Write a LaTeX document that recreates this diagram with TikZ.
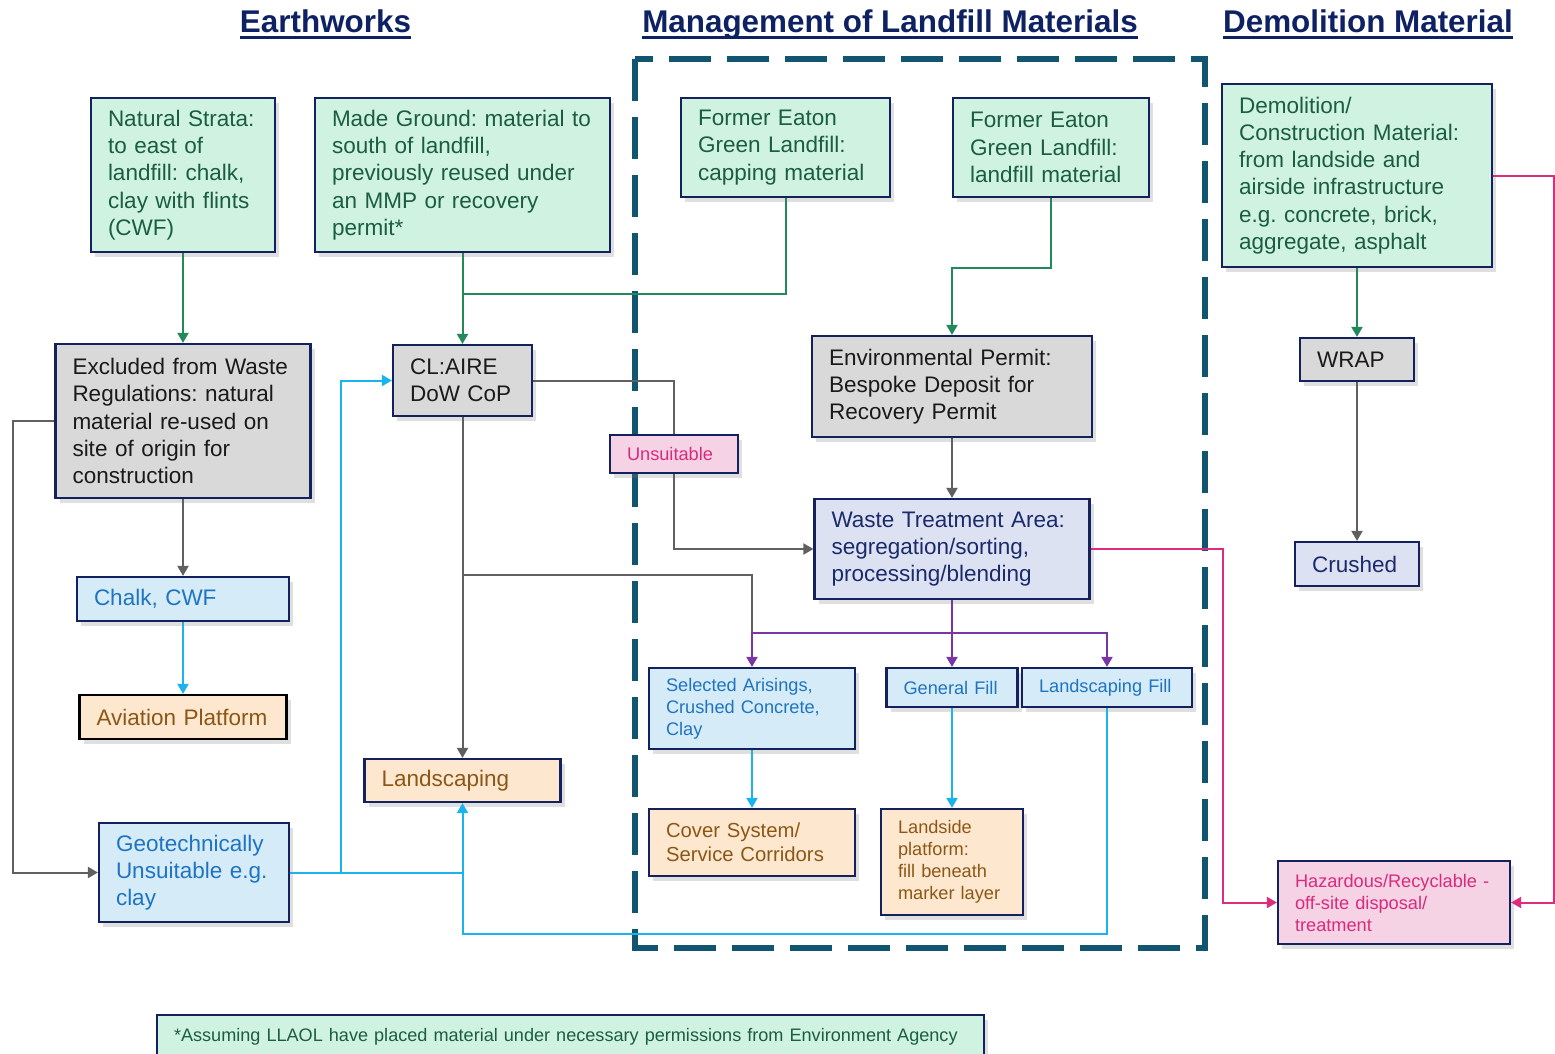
\documentclass[tikz,border=0pt]{standalone}
\usepackage{fontspec}
\setmainfont{Liberation Sans}
\frenchspacing
\usetikzlibrary{arrows.meta,shadows}
\definecolor{navyB}{HTML}{13225F}
\definecolor{titleC}{HTML}{0E2263}
\definecolor{dashC}{HTML}{115570}
\definecolor{mintF}{HTML}{CFF2E1}
\definecolor{mintT}{HTML}{1B5E3F}
\definecolor{grayF}{HTML}{D9D9D9}
\definecolor{grayT}{HTML}{1A1A1A}
\definecolor{lavF}{HTML}{DDE2F2}
\definecolor{lavT}{HTML}{1B2A6B}
\definecolor{blueF}{HTML}{D5EBF7}
\definecolor{blueT}{HTML}{1F74C2}
\definecolor{peachF}{HTML}{FDE8CF}
\definecolor{peachT}{HTML}{8C5716}
\definecolor{pinkF}{HTML}{F6D3E4}
\definecolor{pinkT}{HTML}{D92A7F}
\definecolor{greenL}{HTML}{23895A}
\definecolor{grayL}{HTML}{606060}
\definecolor{blueL}{HTML}{19B4EE}
\definecolor{purpleL}{HTML}{7A35A6}
\definecolor{magL}{HTML}{DD2C7E}
\begin{document}
\begin{tikzpicture}[x=1pt,y=1pt]
    \tikzstyle{every node}+=[inner sep=0pt]
    \tikzstyle{box}=[draw=navyB, line width=2.2pt, inner xsep=17pt, inner ysep=3pt, align=left,
        drop shadow={opacity=0.25, shadow xshift=4pt, shadow yshift=-5pt}]
    \tikzstyle{mint}=[box, fill=mintF, text=mintT]
    \tikzstyle{grey}=[box, fill=grayF, text=grayT]
    \tikzstyle{lav}=[box, fill=lavF, text=lavT]
    \tikzstyle{sky}=[box, fill=blueF, text=blueT]
    \tikzstyle{peach}=[box, fill=peachF, text=peachT]
    \tikzstyle{pink}=[box, fill=pinkF, text=pinkT]
    \tikzstyle{fbig}=[font=\fontsize{22.5}{27.3}\selectfont]
    \tikzstyle{fmid}=[font=\fontsize{20.3}{24}\selectfont]
    \tikzstyle{fsmall}=[font=\fontsize{18.2}{22}\selectfont]
    \tikzstyle{title}=[text=titleC, font=\fontsize{31.4}{36}\selectfont\bfseries, anchor=base]
    \tikzstyle{tip}=[-{Triangle[width=11pt,length=10pt]}]
    \tikzstyle{greenln}=[greenL, line width=2pt]
    \tikzstyle{grayln}=[grayL, line width=2pt]
    \tikzstyle{blueln}=[blueL, line width=2pt]
    \tikzstyle{purpleln}=[purpleL, line width=2pt]
    \tikzstyle{magln}=[magL, line width=2pt]
    \useasboundingbox (0,0) rectangle (1555,-1054);
    \fill [white] (0,0) rectangle (1555,-1054);
    % headings
    \node [title] (tew) at (325.5,-33) {Earthworks};
    \node [title] (tml) at (890,-33) {Management of Landfill Materials};
    \node [title] (tdm) at (1368,-33) {Demolition Material};
    \foreach \t in {tew,tml,tdm}
        \draw [titleC, line width=3pt] ([yshift=-5pt]\t.base west) -- ([yshift=-5pt]\t.base east);
    % landfill area
    \draw [dashC, line width=6pt, dash pattern=on 42pt off 16pt] (635,-59) rectangle (1205,-948);
    % sources
    \node [mint, fbig, text width=150pt, minimum height=154] (ns) at (183,-175) {Natural Strata:\\to east of\\landfill: chalk,\\clay with flints\\(CWF)};
    \node [mint, fbig, text width=261pt, minimum height=154] (mg) at (462.5,-175) {Made Ground: material to\\south of landfill,\\previously reused under\\an MMP or recovery\\permit*};
    \node [mint, fbig, text width=175pt, minimum height=99] (fec) at (785.5,-147.5) {Former Eaton\\Green Landfill:\\capping material};
    \node [mint, fbig, text width=162pt, minimum height=99] (fel) at (1051,-147.5) {Former Eaton\\Green Landfill:\\landfill material};
    \node [mint, fbig, text width=236pt, minimum height=183] (dem) at (1357,-175.5) {Demolition/\\Construction Material:\\from landside and\\airside infrastructure\\e.g. concrete, brick,\\aggregate, asphalt};
    % routes
    \node [grey, fbig, text width=221pt, minimum height=154] (exc) at (183,-421) {Excluded from Waste\\Regulations: natural\\material re-used on\\site of origin for\\construction};
    \node [grey, fbig, text width=105pt, minimum height=71] (cla) at (462.5,-380.5) {CL:AIRE\\DoW CoP};
    \node [pink, fsmall, text width=94pt, minimum height=38] (uns) at (674,-454) {Unsuitable};
    \node [grey, fbig, text width=246pt, minimum height=101] (env) at (952,-386.5) {Environmental Permit:\\Bespoke Deposit for\\Recovery Permit};
    \node [lav, fbig, text width=241pt, minimum height=100] (wta) at (952,-549) {Waste Treatment Area:\\segregation/sorting,\\processing/blending};
    \node [grey, fbig, text width=80pt, minimum height=43] (wrap) at (1357,-359.5) {WRAP};
    \node [lav, fbig, text width=90pt, minimum height=44] (crushed) at (1357,-564) {Crushed};
    % materials and uses
    \node [sky, fbig, text width=178pt, minimum height=44] (chk) at (183,-599) {Chalk, CWF};
    \node [peach, fbig, text width=173pt, minimum height=44, draw=black] (avp) at (183,-717) {Aviation Platform};
    \node [peach, fbig, text width=162pt, minimum height=43] (lsc) at (462.5,-780.5) {Landscaping};
    \node [sky, fbig, text width=156pt, minimum height=99] (geo) at (194,-872.5) {Geotechnically\\Unsuitable e.g.\\clay};
    \node [sky, fsmall, text width=172pt, minimum height=81] (sel) at (752,-708.5) {Selected Arisings,\\Crushed Concrete,\\Clay};
    \node [sky, fsmall, text width=97pt, minimum height=39] (gf) at (952,-687.5) {General Fill};
    \node [sky, fsmall, text width=136pt, minimum height=39] (lf) at (1107,-687.5) {Landscaping Fill};
    \node [peach, fmid, text width=172pt, minimum height=67] (cov) at (752,-842.5) {Cover System/\\Service Corridors};
    \node [peach, fsmall, text width=108pt, minimum height=106] (lsp) at (952,-862) {Landside\\platform:\\fill beneath\\marker layer};
    \node [pink, fsmall, text width=198pt, minimum height=83] (haz) at (1394,-902.5) {Hazardous/Recyclable -\\off-site disposal/\\treatment};
    \node [mint, font=\fontsize{18.1}{22}\selectfont, text width=793pt, minimum height=43] (foot) at (570.5,-1036.5) {*Assuming LLAOL have placed material under necessary permissions from Environment Agency};
    % connectors
    \coordinate (mgjoin) at (462.5,-294);
    \coordinate (gsplit) at (462.5,-575);
    \coordinate (psplit) at (952,-633);
    \coordinate (bsplit) at (341,-872.5);
    \draw [greenln, tip] (ns.south) -- (exc.north);
    \draw [greenln, tip] (mg.south) -- (cla.north);
    \draw [greenln] (fec.south) |- (mgjoin);
    \draw [greenln, tip] (fel.south) -- ++(0,-70) -| (env.north);
    \draw [greenln, tip] (dem.south) -- (wrap.north);
    \draw [grayln, tip] (exc.south) -- (chk.north);
    \draw [grayln, tip] (exc.west) -- ++(-41,0) |- (geo.west);
    \draw [grayln] (cla.east) -| (uns.north);
    \draw [grayln, tip] (uns.south) |- (wta.west);
    \draw [grayln, tip] (cla.south) -- (lsc.north);
    \draw [grayln] (gsplit) -| (sel.north |- psplit);
    \draw [grayln, tip] (env.south) -- (wta.north);
    \draw [grayln, tip] (wrap.south) -- (crushed.north);
    \draw [purpleln, tip] (wta.south) -- (gf.north);
    \draw [purpleln, tip] (psplit) -| (sel.north);
    \draw [purpleln, tip] (psplit) -| (lf.north);
    \draw [blueln, tip] (chk.south) -- (avp.north);
    \draw [blueln, tip] (sel.south) -- (cov.north);
    \draw [blueln, tip] (gf.south) -- (lsp.north);
    \draw [blueln, tip] (lf.south) -- ++(0,-226) -| (lsc.south);
    \draw [blueln] (geo.east) -- (geo.east -| lsc.south);
    \draw [blueln, tip] (bsplit) |- (cla.west);
    \draw [magln, tip] (wta.east) -- ++(132,0) |- (haz.west);
    \draw [magln, tip] (dem.east) -- ++(61,0) |- (haz.east);
\end{tikzpicture}
\end{document}
